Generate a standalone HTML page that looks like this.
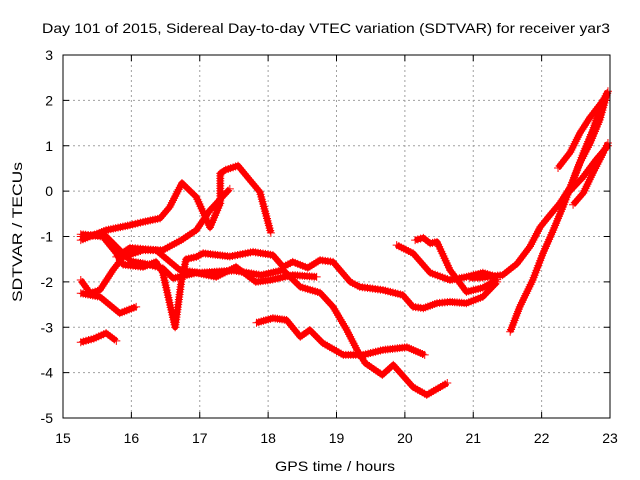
<!DOCTYPE html>
<html><head><meta charset="utf-8"><style>
body{margin:0;background:#fff;}
svg{display:block;font-family:"Liberation Sans",sans-serif;}
</style></head><body>
<svg id="chart" width="640" height="480" viewBox="0 0 640 480">
<rect width="640" height="480" fill="#fff"/>
<text x="42" y="33" font-size="14" textLength="568" lengthAdjust="spacingAndGlyphs">Day 101 of 2015, Sidereal Day-to-day VTEC variation (SDTVAR) for receiver yar3</text>
<text transform="translate(22,232) rotate(-90)" font-size="14" text-anchor="middle" textLength="140" lengthAdjust="spacingAndGlyphs">SDTVAR / TECUs</text>
<text x="335" y="471" font-size="14" text-anchor="middle" textLength="120" lengthAdjust="spacingAndGlyphs">GPS time / hours</text>
<g id="grid"></g>
<g id="ticks"></g>
<g id="series"></g>
<rect x="63" y="55" width="547" height="363" fill="none" stroke="#000" stroke-width="1"/>
</svg>
<script>
const xTicks = [15,16,17,18,19,20,21,22,23];
const yTicks = [3,2,1,0,-1,-2,-3,-4,-5];
const track1 = [[15.26,-1.08],[15.63,-0.86],[15.98,-0.75],[16.17,-0.68],[16.42,-0.6],[16.56,-0.35],[16.74,0.18],[16.95,-0.13],[17.15,-0.8],[17.3,-0.27],[17.3,0.39],[17.38,0.47],[17.56,0.56],[17.73,0.25],[17.88,-0.02],[18.04,-0.92]];
const track2 = [[15.26,-1.96],[15.4,-2.25],[15.54,-2.18],[15.73,-1.74],[15.88,-1.45],[16.17,-1.3],[16.46,-1.3],[16.73,-1.08],[16.95,-0.86],[17.15,-0.42],[17.44,0.05]];
const track3 = [[15.26,-0.95],[15.58,-1.0],[15.78,-1.37],[15.88,-1.62],[16.17,-1.67],[16.36,-1.56],[16.46,-1.8],[16.64,-3.0],[16.73,-2.0],[16.8,-1.5],[16.95,-1.45],[17.05,-1.37],[17.44,-1.44],[17.78,-1.34],[18.07,-1.41],[18.22,-1.67],[18.36,-1.56],[18.58,-1.69],[18.76,-1.52],[18.95,-1.56],[19.2,-2.0],[19.34,-2.11],[19.68,-2.18],[19.97,-2.29],[20.12,-2.55],[20.27,-2.58],[20.47,-2.47],[20.66,-2.44],[20.9,-2.47],[21.14,-2.33],[21.35,-2.0]];
const track4 = [[15.26,-1.0],[15.6,-0.95],[15.83,-1.3],[16.0,-1.55],[16.2,-1.6],[16.46,-1.7],[16.61,-1.92],[16.95,-1.8],[17.24,-1.89],[17.53,-1.67],[17.82,-2.0],[18.03,-1.96],[18.36,-1.85],[18.71,-1.89]];
const track5 = [[15.78,-1.45],[15.98,-1.25],[16.36,-1.3],[16.71,-1.74],[17.0,-1.8],[17.5,-1.75],[17.9,-1.85],[18.22,-1.74],[18.47,-2.11],[18.76,-2.24],[18.95,-2.55],[19.15,-3.06],[19.3,-3.5],[19.42,-3.79],[19.67,-4.05],[19.83,-3.83],[20.12,-4.32],[20.32,-4.49],[20.62,-4.23]];
const track6 = [[17.83,-2.9],[18.07,-2.8],[18.27,-2.84],[18.47,-3.21],[18.61,-3.06],[18.8,-3.35],[19.1,-3.61],[19.39,-3.61],[19.68,-3.5],[20.03,-3.44],[20.29,-3.61]];
const track7 = [[15.26,-3.33],[15.45,-3.25],[15.63,-3.13],[15.78,-3.3]];
const track8 = [[15.26,-2.25],[15.54,-2.33],[15.83,-2.69],[16.07,-2.55]];
const track9 = [[19.88,-1.19],[20.12,-1.37],[20.37,-1.8],[20.66,-1.96],[20.9,-1.89],[21.14,-1.8],[21.35,-1.89]];
const track10 = [[20.15,-1.08],[20.27,-1.03],[20.37,-1.15],[20.47,-1.12],[20.66,-1.74],[20.9,-2.22],[21.14,-2.13],[21.35,-1.95]];
const track11 = [[20.95,-1.91],[21.1,-1.91],[21.43,-1.85],[21.64,-1.6],[21.83,-1.22],[21.98,-0.79],[22.12,-0.53],[22.27,-0.26],[22.42,0.09],[22.56,0.62],[22.71,1.06],[22.85,1.57],[22.96,2.16]];
const track12 = [[21.54,-3.1],[21.68,-2.55],[21.87,-1.96],[22.02,-1.37],[22.17,-0.86],[22.31,-0.35],[22.46,0.24],[22.61,0.84],[22.75,1.35],[22.9,2.01]];
const track13 = [[22.24,0.51],[22.42,0.86],[22.56,1.28],[22.71,1.63],[22.9,2.0],[22.97,2.2]];
const track14 = [[22.46,-0.3],[22.61,-0.04],[22.75,0.4],[22.9,0.84],[22.97,1.06]];
const track15 = [[22.35,-0.1],[22.6,0.3],[22.8,0.7],[22.97,1.0]];
const tracks = [track1,track2,track3,track4,track5,track6,track7,track8,track9,track10,track11,track12,track13,track14,track15];

const X0=63,X1=610,Y0=55,Y1=418;
function xs(h){return X0+(h-15)/8*(X1-X0);}
function ys(v){return Y0+(3-v)/8*(Y1-Y0);}
const NS='http://www.w3.org/2000/svg';
function mk(tag,attrs,parent){const e=document.createElementNS(NS,tag);for(const k in attrs)e.setAttribute(k,attrs[k]);parent.appendChild(e);return e;}
const grid=document.getElementById('grid'),ticks=document.getElementById('ticks'),ser=document.getElementById('series');
xTicks.forEach(t=>{
  const x=xs(t);
  if(t>15&&t<23){const g=mk('line',{x1:x,x2:x,y1:Y0,y2:Y1,stroke:'#a0a0a0','stroke-dasharray':'2,3'},grid);
  
  }
  mk('line',{x1:x,x2:x,y1:Y1,y2:Y1-6,stroke:'#000'},ticks);
  mk('line',{x1:x,x2:x,y1:Y0,y2:Y0+6,stroke:'#000'},ticks);
  const l=mk('text',{x:x,y:443,'font-size':14,'text-anchor':'middle'},ticks);
  l.textContent=t;
  
  
});
yTicks.forEach(t=>{
  const y=ys(t);
  if(t<3&&t>-5){const g=mk('line',{x1:X0,x2:X1,y1:y,y2:y,stroke:'#a0a0a0','stroke-dasharray':'2,3'},grid);
  
  }
  mk('line',{x1:X0,x2:X0+6,y1:y,y2:y,stroke:'#000'},ticks);
  mk('line',{x1:X1,x2:X1-6,y1:y,y2:y,stroke:'#000'},ticks);
  const l=mk('text',{x:53,y:y+5,'font-size':14,'text-anchor':'end'},ticks);
  l.textContent=t;
  
  
});
tracks.forEach((tr,i)=>{
  const g=mk('g',{},ser);
  
  
  const pts=tr.map(p=>[xs(p[0]),ys(p[1])]);
  mk('polyline',{points:pts.map(p=>p.join(',')).join(' '),fill:'none',stroke:'#f00','stroke-width':6,'stroke-linejoin':'round'},g);
  let d='';
  for(let k=0;k<pts.length-1;k++){
    const [ax,ay]=pts[k],[bx,by]=pts[k+1];
    const n=Math.max(1,Math.round(Math.hypot(bx-ax,by-ay)/2.5));
    for(let j=0;j<n;j++){const x=ax+(bx-ax)*j/n,y=ay+(by-ay)*j/n;d+=`M${x-4},${y}h8M${x},${y-4}v8`;}
  }
  const l=pts[pts.length-1];d+=`M${l[0]-4},${l[1]}h8M${l[0]},${l[1]-4}v8`;
  mk('path',{d:d,stroke:'#f00','stroke-width':1,fill:'none'},g);
});
</script>
</body></html>
